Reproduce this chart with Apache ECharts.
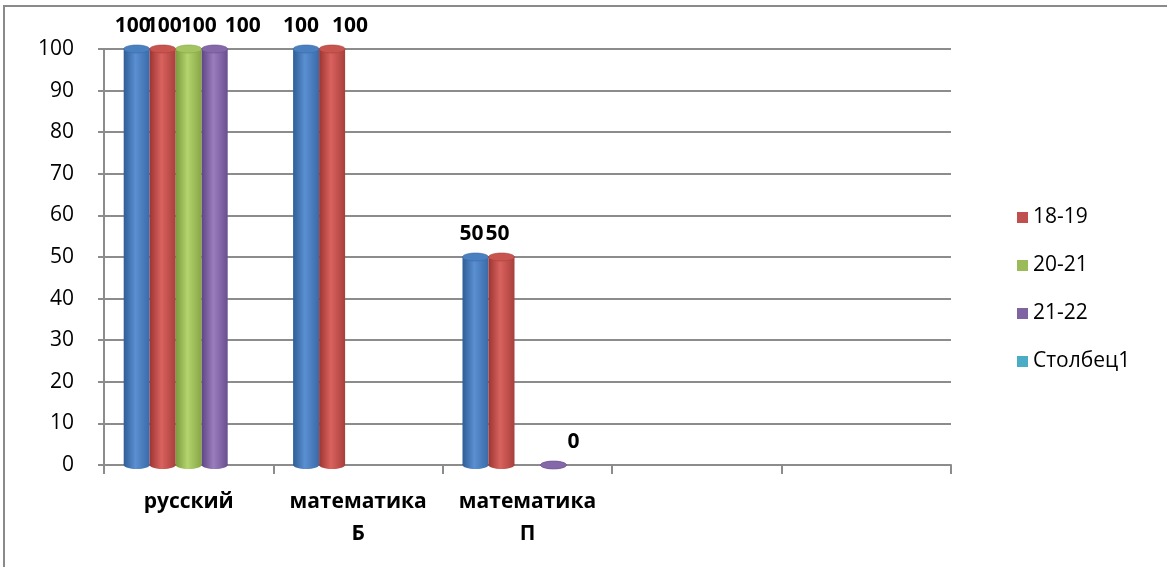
<!DOCTYPE html>
<html><head><meta charset="utf-8">
<script src="https://cdn.jsdelivr.net/npm/echarts@6/dist/echarts.min.js"></script>
<style>html,body{margin:0;padding:0;background:#fff}#c{width:1167px;height:567px}</style>
</head><body><div id="c"></div>
<script>
const categories = ['русский', 'математика\nБ', 'математика\nП', '', ''];
const seriesNames = ['17-18', '18-19', '20-21', '21-22', 'Столбец1'];
const s1718 = [100, 100, 50, null, null];
const s1819 = [100, 100, 50, null, null];
const s2021 = [100, null, null, null, null];
const s2122 = [100, null, 0, null, null];
const sCol1 = [null, null, null, null, null];
const yTicks = { min: 0, max: 100, interval: 10 };

const values = [s1718, s1819, s2021, s2122, sCol1];
const palette = [
  ['#2f5d96', '#5a8fd1', '#3a6aa8', '#4a7fc0'],
  ['#9c3532', '#d9625e', '#a83f3b', '#c85450'],
  ['#7a9a3c', '#b3d46e', '#86a645', '#a4c461'],
  ['#5f4683', '#9a7dbd', '#6a4f90', '#8568a8'],
  ['#2f8aa3', '#6cc4dc', '#3a98b2', '#55b4cd']
];
const legendColors = ['#4F81BD', '#C0504D', '#9BBB59', '#8064A2', '#4BACC6'];
// horizontal label nudges (px) per series per category, as Excel placed them
const labelShift = [
  [-4, -5, -4, 0, 0],
  [1, 18, -4, 0, 0],
  [10, 0, 0, 0, 0],
  [28, 0, 20, 0, 0],
  [0, 0, 0, 0, 0]
];
const FONT = 'Open Sans';
const BAR_W = 26;
const N = values.length;

function grad(p) {
  return new echarts.graphic.LinearGradient(0, 0, 1, 0, [
    { offset: 0, color: p[0] }, { offset: 0.45, color: p[1] }, { offset: 1, color: p[2] }
  ]);
}

const series = [];
values.forEach((vals, i) => {
  series.push({
    name: seriesNames[i], type: 'bar', barWidth: BAR_W, barGap: '0%',
    data: vals.map((v, j) => ({ value: v, label: { offset: [labelShift[i][j], 0] } })),
    itemStyle: { color: grad(palette[i]) },
    label: {
      show: true, position: 'top', distance: 12,
      fontFamily: FONT, fontWeight: 'bold', fontSize: 21, color: '#000'
    },
    z: 2
  });
});

// ellipse caps (top and bottom) of the cylinders
const capData = [];
values.forEach((vals, i) => vals.forEach((v, j) => { if (v !== null) capData.push([j, v, i]); }));
series.push({
  type: 'custom', data: capData, z: 3, silent: true,
  encode: { x: 0, y: 1 },
  renderItem: function (params, api) {
    const cat = api.value(0), val = api.value(1), si = api.value(2);
    const top = api.coord([cat, val]);
    const base = api.coord([cat, 0]);
    const cx = top[0] - (N * BAR_W) / 2 + BAR_W * si + BAR_W / 2;
    const p = palette[si];
    return {
      type: 'group', children: [
        { type: 'ellipse', shape: { cx: cx, cy: base[1], rx: BAR_W / 2, ry: 4 }, style: { fill: grad(p) } },
        { type: 'ellipse', shape: { cx: cx, cy: top[1], rx: BAR_W / 2, ry: 4 }, style: { fill: p[3], stroke: p[2], lineWidth: 0.6 } }
      ]
    };
  }
});

const chart = echarts.init(document.getElementById('c'));
chart.setOption({
  animation: false,
  color: legendColors,
  graphic: [{
    type: 'rect', shape: { x: 4, y: 6, width: 1200, height: 600 },
    style: { fill: 'none', stroke: '#8a8a8a', lineWidth: 2 }, silent: true
  }],
  grid: { left: 104, right: 216, top: 49, bottom: 102 },
  legend: {
    data: seriesNames.slice(1).map((n, k) => ({ name: n, itemStyle: { color: legendColors[k + 1] } })),
    orient: 'vertical', left: 1012, top: 202, itemGap: 27,
    itemWidth: 11, itemHeight: 11, icon: 'rect',
    textStyle: { fontFamily: FONT, fontSize: 21, color: '#000' }
  },
  xAxis: {
    type: 'category', data: categories,
    axisLine: { lineStyle: { color: '#8c8c8c', width: 2 } },
    axisTick: { show: true, length: 9, lineStyle: { color: '#8c8c8c', width: 2 } },
    axisLabel: {
      interval: 0, margin: 21, fontFamily: FONT, fontWeight: 'bold',
      fontSize: 21, color: '#000', lineHeight: 32
    }
  },
  yAxis: {
    type: 'value', min: yTicks.min, max: yTicks.max, interval: yTicks.interval,
    axisLine: { show: true, lineStyle: { color: '#8c8c8c', width: 2 } },
    axisTick: { show: true, length: 6, lineStyle: { color: '#8c8c8c', width: 2 } },
    axisLabel: { margin: 30, fontFamily: FONT, fontSize: 21, color: '#000' },
    splitLine: { lineStyle: { color: '#8c8c8c', width: 2 } }
  },
  series: series
});
</script></body></html>
